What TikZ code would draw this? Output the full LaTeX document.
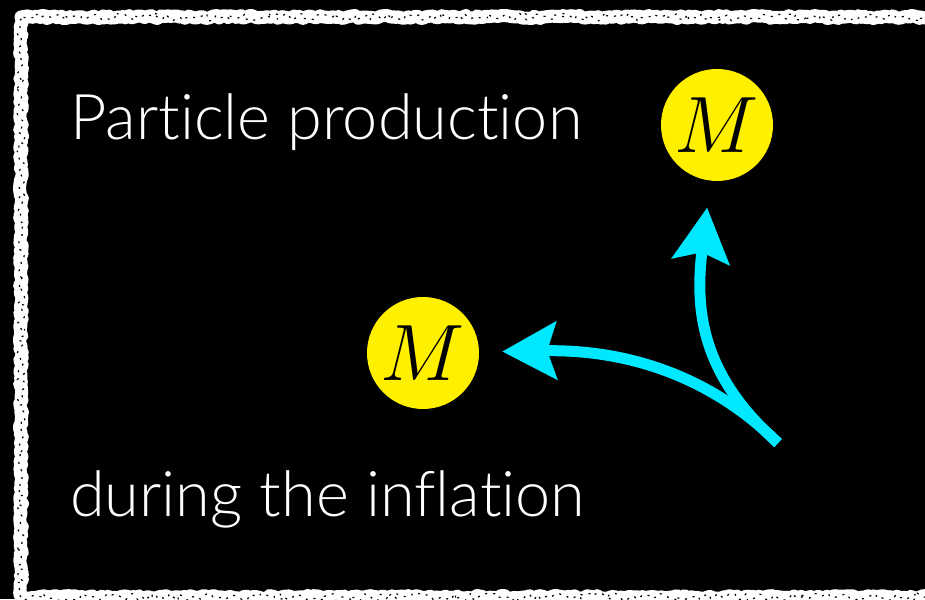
\RequirePackage{fix-cm}
\documentclass[tikz,border=0pt]{standalone}
\usepackage{fontspec}
\setmainfont{Lato}[UprightFont=* Light, Ligatures=NoCommon]
\usepackage{tikz}
\usetikzlibrary{arrows.meta,decorations.pathmorphing}
\definecolor{slideBack}{RGB}{0,0,0}
\definecolor{chalkLine}{RGB}{255,255,255}
\definecolor{massFill}{RGB}{255,240,0}
\definecolor{flowCyan}{RGB}{0,232,255}
\tikzset{
  slidetext/.style={anchor=base west, inner sep=0pt, text=white,
    font=\fontsize{63}{70}\selectfont},
  massnode/.style={circle, fill=massFill, minimum size=112pt, inner sep=0pt,
    font=\fontsize{80}{80}\selectfont},
  chalkframe/.style={draw=chalkLine, line width=13pt, line join=round, decorate,
    decoration={random steps, segment length=3pt, amplitude=1.5pt}},
  chalkgrain/.style={draw=slideBack, line width=1.2pt, line join=round,
    dash pattern=on 2pt off 6pt, decorate,
    decoration={random steps, segment length=4pt, amplitude=4pt}},
  flowarrow/.style={-{Stealth[length=54pt,width=57pt,inset=9pt]}, draw=flowCyan,
    line width=11pt},
}

\begin{document}
\begin{tikzpicture}[x=1pt,y=1pt]
  \fill[slideBack] (0,0) rectangle (925,599);
  \useasboundingbox (0,0) rectangle (925,599);

  % chalk frame
  \draw[chalkframe] (21,2) rectangle (940,582);
  \draw[chalkgrain] (21,2) rectangle (940,582);

  \node[slidetext] (title) at (70,459) {Particle production};
  \node[slidetext] (subtitle) at (70,82) {during the inflation};

  \node[massnode] (Mtop) at (717,474) {$M$};
  \node[massnode] (Mleft) at (423,246) {$M$};

  \coordinate (src) at (778,156);
  \draw[flowarrow, shorten >=23pt] (src) .. controls (720,214) and (640,250) .. (Mleft);
  \draw[flowarrow, shorten >=27pt] (src) .. controls (700,225) and (695,290) .. (Mtop);
\end{tikzpicture}
\end{document}
